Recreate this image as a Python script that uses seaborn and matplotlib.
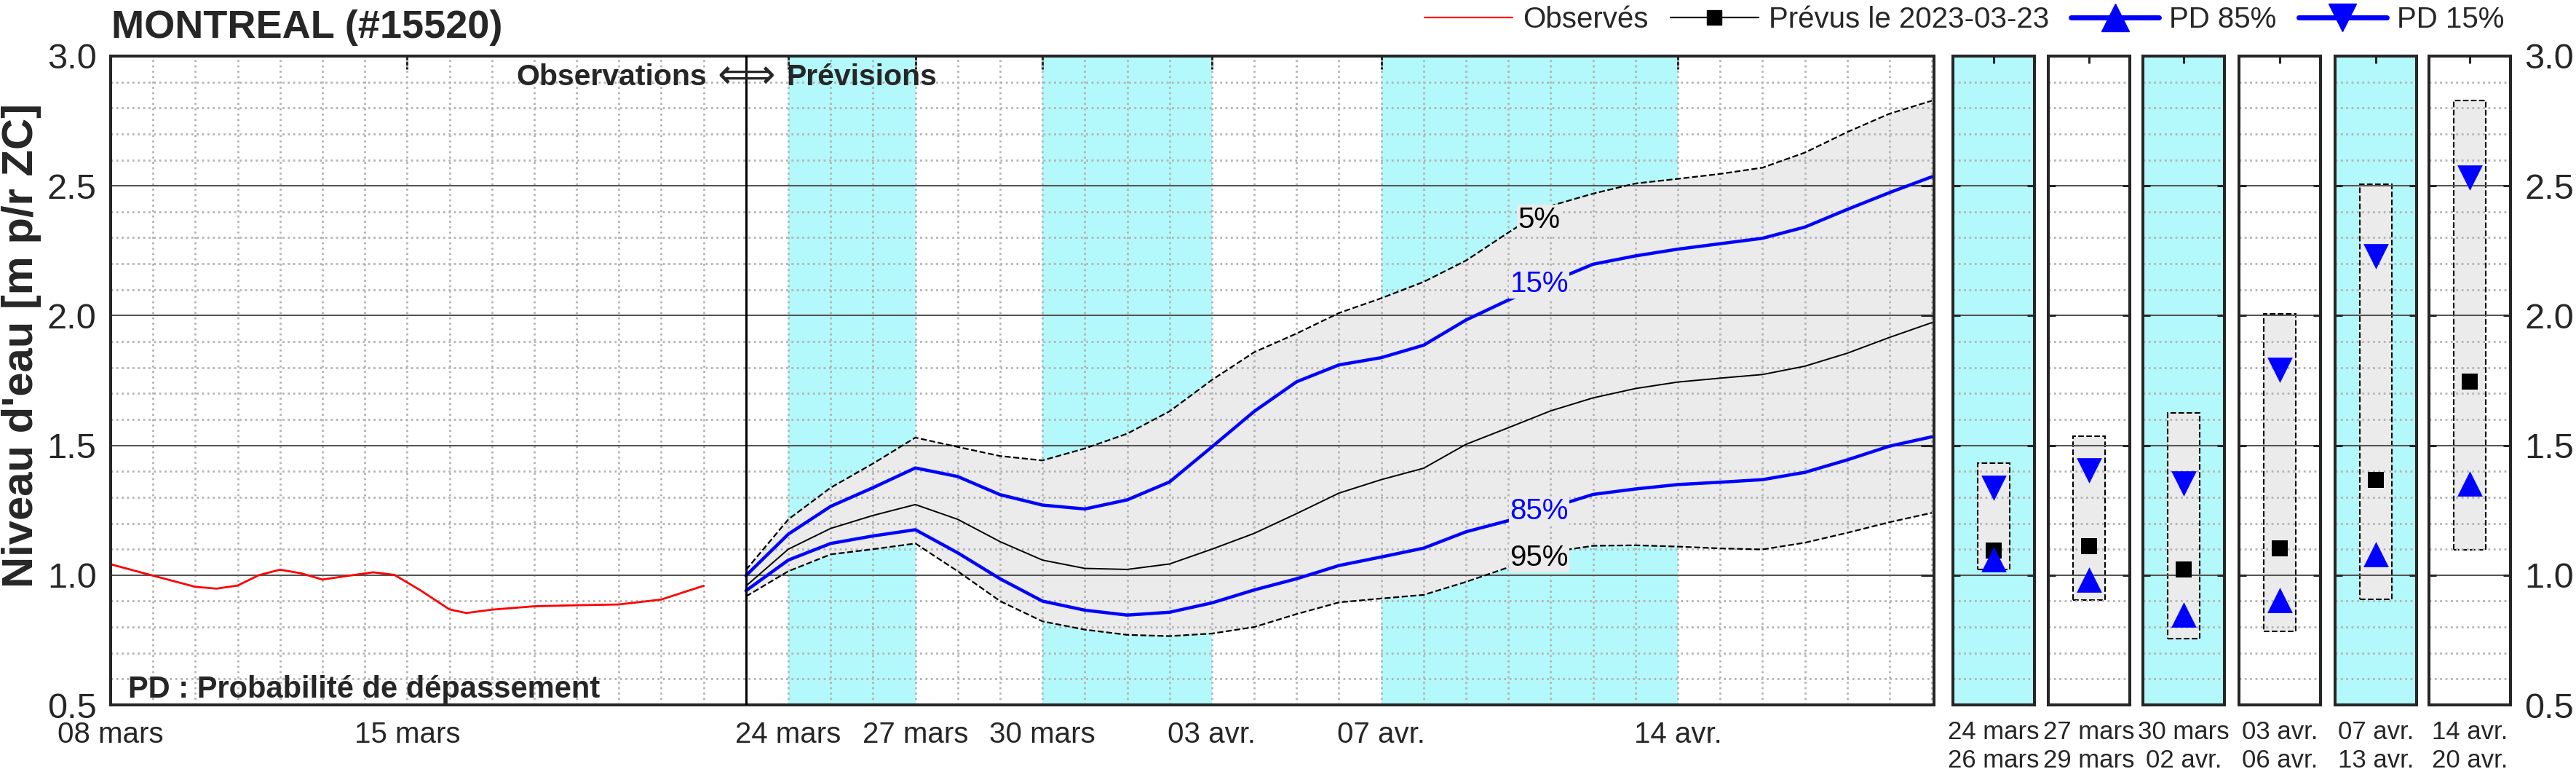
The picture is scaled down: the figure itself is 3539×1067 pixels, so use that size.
import pandas as pd
import seaborn as sns
import matplotlib.pyplot as plt
import matplotlib.dates as mdates
from matplotlib.lines import Line2D
from matplotlib.ticker import MultipleLocator

sns.set_theme(style="white")
plt.rcParams['font.family'] = ['Liberation Sans', 'DejaVu Sans']

start = pd.Timestamp("2023-03-08")

# observed water level (days after 08 mars, m)
obs_day = [0, 1, 2, 2.5, 3, 3.5, 4, 4.5, 5, 5.5, 6.2, 6.7, 7.3, 8, 8.4, 9, 10, 11, 12, 13, 14]
obs_val = [1.042, 0.998, 0.955, 0.948, 0.960, 1.000, 1.021, 1.007, 0.983, 0.995, 1.011, 1.001,
           0.943, 0.868, 0.854, 0.867, 0.880, 0.884, 0.887, 0.906, 0.959]

# forecast quantiles (days after 08 mars)
fc_day = list(range(15, 44))
q05 = [1.020, 1.215, 1.337, 1.430, 1.530, 1.494, 1.459, 1.442, 1.488, 1.545, 1.631, 1.752, 1.859, 1.931,
       2.010, 2.067, 2.130, 2.212, 2.320, 2.423, 2.470, 2.509, 2.527, 2.546, 2.570, 2.628, 2.707, 2.778, 2.828]
q15 = [0.998, 1.158, 1.265, 1.337, 1.413, 1.380, 1.310, 1.270, 1.255, 1.290, 1.359, 1.494, 1.631, 1.745,
       1.810, 1.838, 1.886, 1.983, 2.060, 2.130, 2.198, 2.230, 2.256, 2.277, 2.298, 2.341, 2.409, 2.474, 2.535]
q50 = [0.958, 1.100, 1.180, 1.230, 1.272, 1.215, 1.129, 1.058, 1.026, 1.022, 1.043, 1.100, 1.161, 1.237,
       1.316, 1.368, 1.412, 1.504, 1.568, 1.633, 1.683, 1.719, 1.744, 1.759, 1.773, 1.805, 1.855, 1.916, 1.973]
q85 = [0.940, 1.058, 1.122, 1.151, 1.175, 1.086, 0.986, 0.900, 0.865, 0.846, 0.857, 0.893, 0.943, 0.986,
       1.037, 1.070, 1.104, 1.167, 1.210, 1.260, 1.311, 1.332, 1.349, 1.358, 1.368, 1.396, 1.444, 1.497, 1.533]
q95 = [0.918, 1.015, 1.080, 1.100, 1.122, 1.015, 0.900, 0.822, 0.790, 0.770, 0.765, 0.775, 0.800, 0.850,
       0.895, 0.910, 0.924, 0.974, 1.030, 1.089, 1.113, 1.115, 1.110, 1.103, 1.099, 1.125, 1.163, 1.204, 1.240]

# percentile labels on the curves
pct_text = ["5%", "15%", "85%", "95%"]
pct_val = [2.37, 2.122, 1.246, 1.067]
pct_color = ["black", "blue", "blue", "black"]
pct_day = 33.73

main_ticks = ["2023-03-08", "2023-03-15", "2023-03-24", "2023-03-27", "2023-03-30",
              "2023-04-03", "2023-04-07", "2023-04-14"]
main_ticklabels = ["08 mars", "15 mars", "24 mars", "27 mars", "30 mars", "03 avr.", "07 avr.", "14 avr."]
bands = [("2023-03-24", "2023-03-27"), ("2023-03-30", "2023-04-03"), ("2023-04-07", "2023-04-14")]

# summary per period
per_labels = ["24 mars\n26 mars", "27 mars\n29 mars", "30 mars\n02 avr.",
              "03 avr.\n06 avr.", "07 avr.\n13 avr.", "14 avr.\n20 avr."]
per_max = [1.432, 1.534, 1.624, 2.006, 2.507, 2.828]
per_min = [1.021, 0.903, 0.755, 0.783, 0.907, 1.098]
per_med = [1.096, 1.111, 1.022, 1.102, 1.366, 1.747]
per_p85 = [1.060, 0.984, 0.849, 0.903, 1.080, 1.354]
per_p15 = [1.336, 1.404, 1.354, 1.792, 2.228, 2.531]
per_cyan = [True, False, True, False, True, False]

cyan = "#b3f8fb"
grey_fill = "#ebebeb"
spine_c = "#262626"

W, H = 3539, 1067
fig = plt.figure(figsize=(W / 100, H / 100), dpi=100)
bot = (H - 968) / H
hgt = 891 / H
ax = fig.add_axes([152 / W, bot, 2505 / W, hgt])

obs = pd.DataFrame({"date": start + pd.to_timedelta(obs_day, unit="D"), "niveau": obs_val})
fc = pd.DataFrame({"date": start + pd.to_timedelta(fc_day, unit="D"),
                   "q05": q05, "q15": q15, "q50": q50, "q85": q85, "q95": q95})

for a, b in bands:
    ax.axvspan(pd.Timestamp(a), pd.Timestamp(b), color=cyan, lw=0, zorder=0.8)
ax.fill_between(fc["date"], fc["q95"], fc["q05"], color=grey_fill, lw=0, zorder=0.9)

sns.lineplot(data=obs, x="date", y="niveau", color="red", lw=2, ax=ax)
sns.lineplot(data=fc, x="date", y="q05", color="black", lw=1.6, ls="--", ax=ax)
sns.lineplot(data=fc, x="date", y="q95", color="black", lw=1.6, ls="--", ax=ax)
sns.lineplot(data=fc, x="date", y="q15", color="blue", lw=3.2, ax=ax)
sns.lineplot(data=fc, x="date", y="q85", color="blue", lw=3.2, ax=ax)
sns.lineplot(data=fc, x="date", y="q50", color="black", lw=1.4, ax=ax)

split = start + pd.Timedelta(days=15)
ax.axvline(split, color="black", lw=2.2, zorder=3)

for t, v, c in zip(pct_text, pct_val, pct_color):
    ax.text(start + pd.Timedelta(days=pct_day), v, t, color=c, fontsize=29, ha="center", va="center",
            zorder=4, bbox=dict(facecolor=grey_fill, edgecolor="none", pad=1))

ax.text(split - pd.Timedelta(hours=22), 2.92, "Observations", fontsize=29.5, fontweight="bold",
        ha="right", va="center", zorder=5)
ax.text(split, 2.92, "\u27fa", fontsize=40, ha="center", va="center", zorder=5,
        family=["DejaVu Sans"])
ax.text(split + pd.Timedelta(hours=23), 2.92, "Prévisions", fontsize=29.5, fontweight="bold",
        ha="left", va="center", zorder=5)
ax.text(0.0096, 0.011, "PD : Probabilité de dépassement", transform=ax.transAxes, fontsize=30,
        fontweight="bold", ha="left", va="baseline", zorder=5)

ax.set_xlim(start, start + pd.Timedelta(days=43.05))
ax.set_ylim(0.5, 3.0)
ax.set_xticks([pd.Timestamp(d) for d in main_ticks])
ax.set_xticklabels(main_ticklabels)
ax.xaxis.set_minor_locator(mdates.DayLocator())
ax.xaxis.remove_overlapping_locs = False
ax.yaxis.set_major_locator(MultipleLocator(0.5))
ax.yaxis.set_minor_locator(MultipleLocator(0.1))
ax.set_yticklabels([f"{v:.1f}" for v in ax.get_yticks()])
ax.tick_params(which="major", direction="in", length=13, width=2.2, color=spine_c,
               top=True, right=True, labelcolor="#262626")
ax.tick_params(axis="x", labelsize=29, pad=16)
ax.tick_params(axis="y", labelsize=35, pad=14)
ax.tick_params(which="minor", length=0)
ax.grid(which="minor", axis="both", ls=":", color="#b4b4b4", lw=2)
ax.grid(which="major", axis="y", ls="-", color="#555555", lw=1.5)
ax.grid(which="major", axis="x", visible=False)
ax.set_axisbelow("line")
ax.set_xlabel("")
ax.set_ylabel("")
for s in ax.spines.values():
    s.set_color(spine_c)
    s.set_linewidth(2.9)

# summary panels
pan_left = [2683, 2814, 2944, 3076, 3208, 3337]
for i in range(6):
    pax = fig.add_axes([pan_left[i] / W, bot, 112 / W, hgt])
    pax.set_facecolor(cyan if per_cyan[i] else "white")
    pax.bar(0, per_max[i] - per_min[i], bottom=per_min[i], width=0.4, color=grey_fill,
            edgecolor="black", ls="--", lw=1.5, zorder=1)
    sns.scatterplot(x=[0], y=[per_med[i]], marker="s", s=16 ** 2, color="black", linewidth=0,
                    ax=pax, zorder=3)
    sns.scatterplot(x=[0], y=[per_p85[i]], marker="^", s=25 ** 2, color="blue", linewidth=0,
                    ax=pax, zorder=3)
    sns.scatterplot(x=[0], y=[per_p15[i]], marker="v", s=25 ** 2, color="blue", linewidth=0,
                    ax=pax, zorder=3)
    pax.set_xlim(-0.5, 0.5)
    pax.set_ylim(0.5, 3.0)
    pax.set_xticks([0])
    pax.set_xticklabels([per_labels[i]], fontsize=25, linespacing=1.25)
    pax.yaxis.set_major_locator(MultipleLocator(0.5))
    pax.yaxis.set_minor_locator(MultipleLocator(0.1))
    pax.set_yticklabels([f"{v:.1f}" for v in pax.get_yticks()])
    pax.tick_params(which="major", direction="in", length=7, width=2.2, color=spine_c,
                    top=True, right=True, left=True, labelcolor="#262626", pad=15)
    pax.tick_params(axis="y", labelsize=35, pad=14, labelleft=False, labelright=(i == 5))
    pax.tick_params(which="minor", length=0)
    pax.grid(which="minor", axis="y", ls=":", color="#b4b4b4", lw=2)
    pax.grid(which="major", axis="y", ls="-", color="#555555", lw=1.5)
    pax.grid(which="major", axis="x", visible=False)
    pax.set_axisbelow("line")
    for s in pax.spines.values():
        s.set_color(spine_c)
        s.set_linewidth(2.9)

fig.text(153 / W, 1 - 38 / H, "MONTREAL (#15520)", fontsize=39, fontweight="bold", ha="left", va="center")
fig.text(30 / W, 1 - 474 / H, "Niveau d'eau [m p/r ZC]", fontsize=43, fontweight="bold",
         rotation=90, ha="center", va="center")

handles = [
    Line2D([], [], color="red", lw=1.6),
    Line2D([], [], color="black", lw=1.6, marker="s", ms=14),
    Line2D([], [], color="blue", lw=5, marker="^", ms=28),
    Line2D([], [], color="blue", lw=5, marker="v", ms=28),
]
fig.legend(handles, ["Observés", "Prévus le 2023-03-23", "PD 85%", "PD 15%"], loc="center right",
           bbox_to_anchor=(3440 / W, 1 - 27 / H), ncol=4, frameon=False, fontsize=29,
           handlelength=3.0, handletextpad=0.35, columnspacing=0.75, borderpad=0, borderaxespad=0)

fig.savefig("out.png", dpi=100)
